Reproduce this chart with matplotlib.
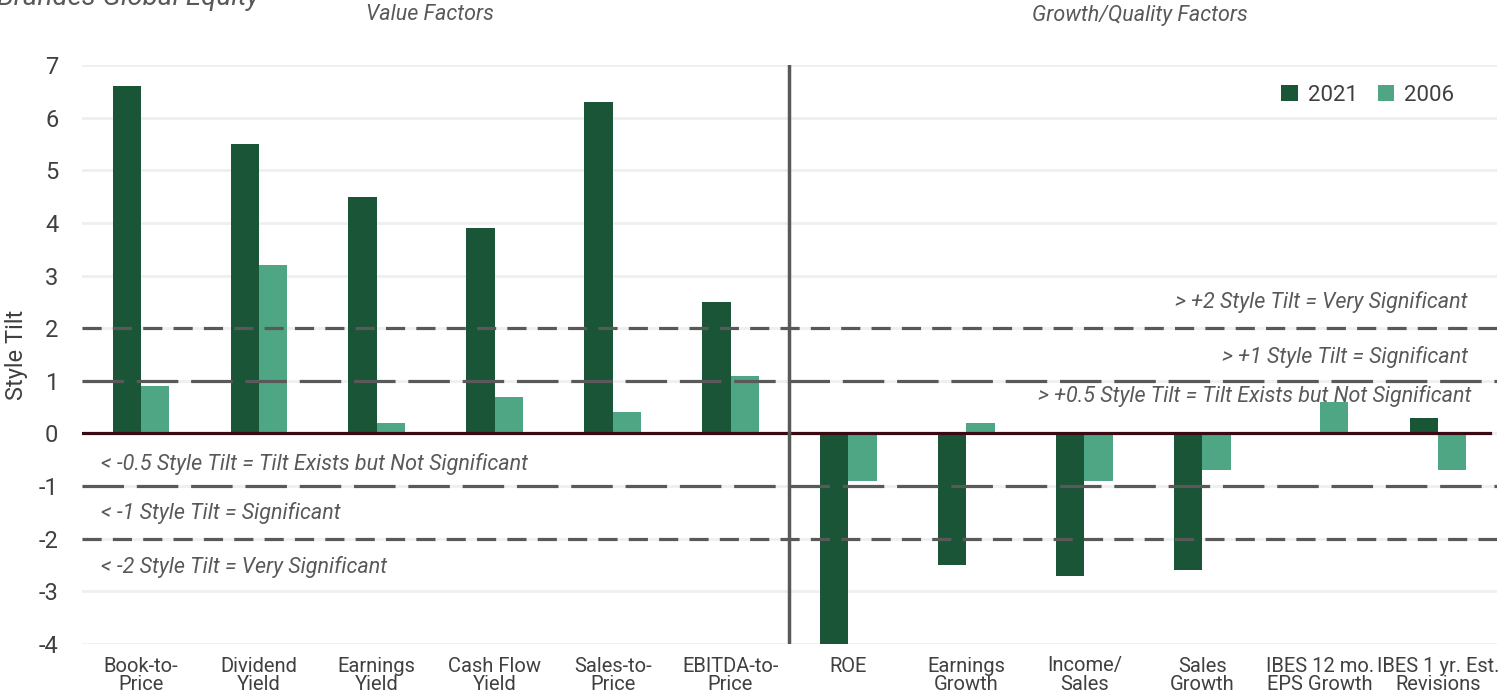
import numpy as np
import matplotlib.pyplot as plt

# data
categories = ['Book-to-\nPrice', 'Dividend\nYield', 'Earnings\nYield', 'Cash Flow\nYield',
              'Sales-to-\nPrice', 'EBITDA-to-\nPrice', 'ROE', 'Earnings\nGrowth',
              'Income/\nSales', 'Sales\nGrowth', 'IBES 12 mo.\nEPS Growth', 'IBES 1 yr. Est.\nRevisions']
tilt_2021 = [6.6, 5.5, 4.5, 3.9, 6.3, 2.5, -4.0, -2.5, -2.7, -2.6, 0.0, 0.3]
tilt_2006 = [0.9, 3.2, 0.2, 0.7, 0.4, 1.1, -0.9, 0.2, -0.9, -0.7, 0.6, -0.7]
y_ticks = list(range(-4, 8))

dark = '#1b5538'
light = '#4fa684'
grey = '#595959'

plt.rcParams['font.family'] = ['Roboto', 'DejaVu Sans']

fig = plt.figure(figsize=(15.12, 6.98), dpi=100)
ax = fig.add_axes([82 / 1512, 1 - 644 / 698, (1497 - 82) / 1512, (644 - 65) / 698])

x = np.arange(len(categories))
w = 0.24
ax.bar(x - w / 2, tilt_2021, w, color=dark, label='2021', zorder=3)
ax.bar(x + w / 2, tilt_2006, w, color=light, label='2006', zorder=3)

ax.set_xlim(-0.5, len(categories) - 0.5)
ax.set_ylim(-4, 7)
ax.set_yticks(y_ticks)
ax.set_yticklabels([str(t) for t in y_ticks], fontsize=17, color='#404040')
ax.set_xticks(x)
ax.set_xticklabels(categories, fontsize=14.5, color='#404040', linespacing=1.0,
                   family=['Liberation Sans Narrow', 'Roboto'])
ax.tick_params(axis='y', length=0, pad=17)
ax.tick_params(axis='x', length=0, pad=9)
for s in ax.spines.values():
    s.set_visible(False)
ax.grid(axis='y', color='#efefef', linewidth=2, zorder=0)
ax.set_ylabel('Style Tilt', fontsize=17, color='#404040')
ax.yaxis.set_label_coords(-54 / 1415, 0.5)

# threshold lines
ax.axhline(2, color=grey, lw=2.3, dashes=(6, 3.5), zorder=4)
ax.axhline(-2, color=grey, lw=2.3, dashes=(6, 3.5), zorder=4)
ax.axhline(1, color=grey, lw=2.3, dashes=(13, 4), zorder=4)
ax.axhline(-1, color=grey, lw=2.3, dashes=(13, 4), zorder=4)
ax.axhline(0, xmin=0, xmax=0.995, color='#3a0a14', lw=2.3, zorder=5)
ax.axvline(5.5, color=grey, lw=2.5, zorder=5)

tkw = dict(fontsize=15.5, style='italic', color=grey, va='center', zorder=6)
ax.text(11.25, 2.5, '> +2 Style Tilt = Very Significant', ha='right', **tkw)
ax.text(11.25, 1.45, '> +1 Style Tilt = Significant', ha='right', **tkw)
ax.text(11.28, 0.71, '> +0.5 Style Tilt = Tilt Exists but Not Significant', ha='right', **tkw)
ax.text(-0.34, -0.58, '< -0.5 Style Tilt = Tilt Exists but Not Significant', ha='left', **tkw)
ax.text(-0.34, -1.51, '< -1 Style Tilt = Significant', ha='left', **tkw)
ax.text(-0.34, -2.54, '< -2 Style Tilt = Very Significant', ha='left', **tkw)

ax.legend(loc='upper right', bbox_to_anchor=(0.984, 1.0), ncol=2, frameon=False,
          fontsize=16, handlelength=0.75, handleheight=0.75, columnspacing=0.9,
          handletextpad=0.45, labelcolor='#404040')

fig.text(430 / 1512, 1 - 15 / 698, 'Value Factors', ha='center', va='center',
         fontsize=15.5, style='italic', color=grey)
fig.text(1140 / 1512, 1 - 15 / 698, 'Growth/Quality Factors', ha='center', va='center',
         fontsize=15.5, style='italic', color=grey)
fig.text(-3 / 1512, 1 - 5 / 698, 'Brandes Global Equity', ha='left', va='baseline',
         fontsize=20, style='italic', color=grey)

fig.savefig('out.png', dpi=100)
